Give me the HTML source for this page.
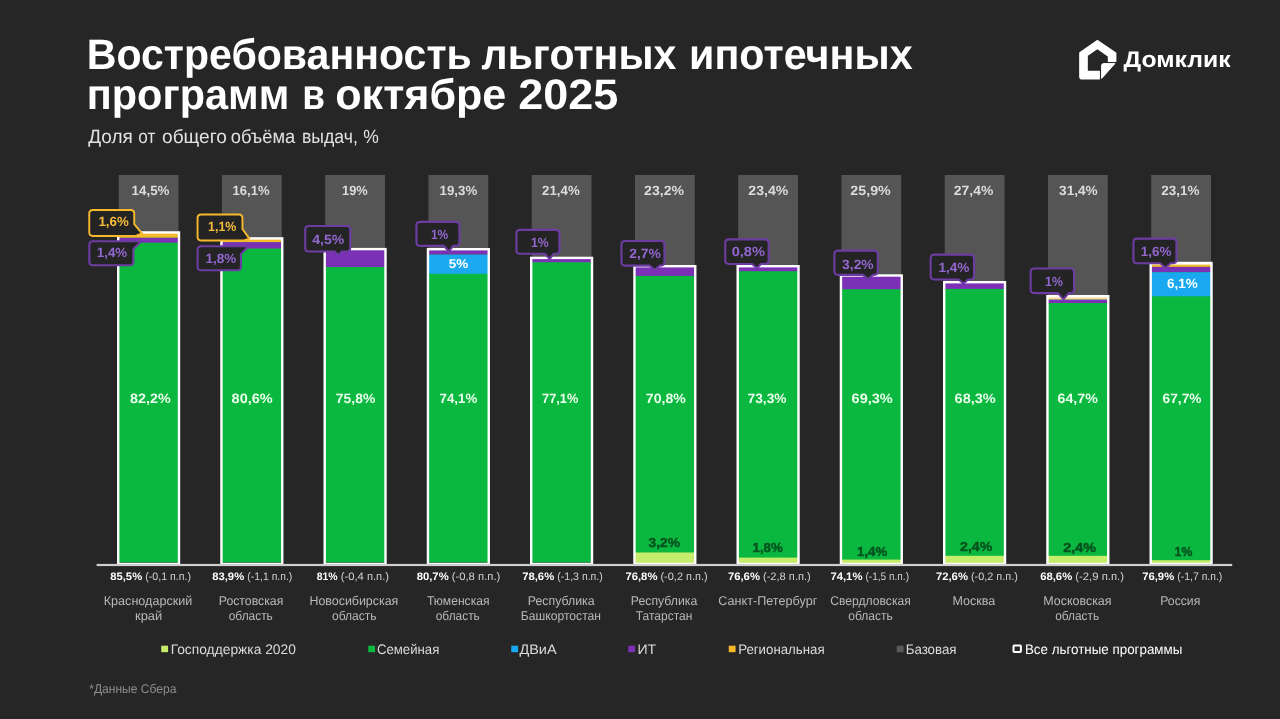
<!DOCTYPE html>
<html lang="ru">
<head>
<meta charset="utf-8">
<title>Востребованность льготных ипотечных программ в октябре 2025</title>
<style>
html,body{margin:0;padding:0;background:#262626;overflow:hidden}
body{width:1280px;height:719px}
svg{display:block;will-change:transform;font-family:'Liberation Sans', Arial, sans-serif;text-rendering:geometricPrecision}
</style>
</head>
<body>
<svg width="1280" height="719" viewBox="0 0 1280 719">
<rect x="0" y="0" width="1280" height="719" fill="#262626"/>
<text x="86.80" y="68.75" font-size="42.7" fill="#ffffff" font-weight="700" textLength="385.02" lengthAdjust="spacingAndGlyphs">Востребованность</text>
<text x="481.55" y="68.75" font-size="42.7" fill="#ffffff" font-weight="700" textLength="194.77" lengthAdjust="spacingAndGlyphs">льготных</text>
<text x="689.05" y="68.75" font-size="42.7" fill="#ffffff" font-weight="700" textLength="223.57" lengthAdjust="spacingAndGlyphs">ипотечных</text>
<text x="86.80" y="109.40" font-size="42.7" fill="#ffffff" font-weight="700" textLength="202.52" lengthAdjust="spacingAndGlyphs">программ</text>
<text x="302.30" y="109.40" font-size="42.7" fill="#ffffff" font-weight="700" textLength="22.77" lengthAdjust="spacingAndGlyphs">в</text>
<text x="335.30" y="109.40" font-size="42.7" fill="#ffffff" font-weight="700" textLength="171.02" lengthAdjust="spacingAndGlyphs">октябре</text>
<text x="518.30" y="109.40" font-size="42.7" fill="#ffffff" font-weight="700" textLength="100.02" lengthAdjust="spacingAndGlyphs">2025</text>
<text x="88.25" y="142.50" font-size="19.2" fill="#e2e2e2" textLength="44.55" lengthAdjust="spacingAndGlyphs">Доля</text>
<text x="138.25" y="142.50" font-size="19.2" fill="#e2e2e2" textLength="17.05" lengthAdjust="spacingAndGlyphs">от</text>
<text x="162.00" y="142.50" font-size="19.2" fill="#e2e2e2" textLength="64.90" lengthAdjust="spacingAndGlyphs">общего</text>
<text x="230.75" y="142.50" font-size="19.2" fill="#e2e2e2" textLength="64.55" lengthAdjust="spacingAndGlyphs">объёма</text>
<text x="302.00" y="142.50" font-size="19.2" fill="#e2e2e2" textLength="55.80" lengthAdjust="spacingAndGlyphs">выдач,</text>
<text x="363.25" y="142.50" font-size="19.2" fill="#e2e2e2" textLength="15.55" lengthAdjust="spacingAndGlyphs">%</text>
<g fill="#ffffff">
<path fill-rule="evenodd" stroke="#ffffff" stroke-width="1.2" stroke-linejoin="round" d="M1097.4 40.5 L1115.8 53.0 L1115.8 61.3 L1108.4 61.3 L1108.4 56.2 L1097.4 48.5 L1087.2 55.6 L1087.2 71.4 L1099.3 71.4 L1099.3 78.9 L1082.0 78.9 Q1079.8 78.9 1079.8 76.7 L1079.8 52.8 Z"/>
<path stroke="#ffffff" stroke-width="1" stroke-linejoin="round" d="M1101.6 78.4 L1101.6 65.6 Q1101.6 63.6 1103.6 63.6 L1114.9 63.6 Z"/>
</g>
<text x="1123.60" y="67.20" font-size="22.7" fill="#ffffff" font-weight="700" textLength="106.94" lengthAdjust="spacingAndGlyphs">Домклик</text>
<rect x="118.70" y="175.0" width="59.80" height="58.25" fill="#555555"/>
<rect x="118.20" y="232.25" width="60.80" height="330.15" fill="#0ab83f"/>
<rect x="118.20" y="232.25" width="60.80" height="5.55" fill="#f6b92c"/>
<rect x="118.20" y="237.80" width="60.80" height="4.90" fill="#7b30b5"/>
<rect x="118.20" y="232.45" width="60.80" height="331.55" fill="none" stroke="#ffffff" stroke-width="2.4"/>
<rect x="221.95" y="175.0" width="59.80" height="64.20" fill="#555555"/>
<rect x="221.45" y="238.20" width="60.80" height="324.20" fill="#0ab83f"/>
<rect x="221.45" y="238.20" width="60.80" height="4.00" fill="#f6b92c"/>
<rect x="221.45" y="242.20" width="60.80" height="6.30" fill="#7b30b5"/>
<rect x="221.45" y="238.40" width="60.80" height="325.60" fill="none" stroke="#ffffff" stroke-width="2.4"/>
<rect x="325.20" y="175.0" width="59.80" height="74.90" fill="#555555"/>
<rect x="324.70" y="248.90" width="60.80" height="313.50" fill="#0ab83f"/>
<rect x="324.70" y="248.90" width="60.80" height="18.10" fill="#7b30b5"/>
<rect x="324.70" y="249.10" width="60.80" height="314.90" fill="none" stroke="#ffffff" stroke-width="2.4"/>
<rect x="428.45" y="175.0" width="59.80" height="75.00" fill="#555555"/>
<rect x="427.95" y="249.00" width="60.80" height="313.40" fill="#0ab83f"/>
<rect x="427.95" y="249.00" width="60.80" height="5.70" fill="#7b30b5"/>
<rect x="427.95" y="254.70" width="60.80" height="19.05" fill="#1aa9f0"/>
<rect x="427.95" y="249.20" width="60.80" height="314.80" fill="none" stroke="#ffffff" stroke-width="2.4"/>
<rect x="531.70" y="175.0" width="59.80" height="83.70" fill="#555555"/>
<rect x="531.20" y="257.70" width="60.80" height="304.70" fill="#0ab83f"/>
<rect x="531.20" y="257.70" width="60.80" height="4.50" fill="#7b30b5"/>
<rect x="531.20" y="257.90" width="60.80" height="306.10" fill="none" stroke="#ffffff" stroke-width="2.4"/>
<rect x="634.95" y="175.0" width="59.80" height="92.00" fill="#555555"/>
<rect x="634.45" y="266.00" width="60.80" height="296.40" fill="#0ab83f"/>
<rect x="634.45" y="266.00" width="60.80" height="9.90" fill="#7b30b5"/>
<rect x="634.45" y="552.50" width="60.80" height="10.90" fill="#c6ec6b"/>
<rect x="634.45" y="266.20" width="60.80" height="297.80" fill="none" stroke="#ffffff" stroke-width="2.4"/>
<rect x="738.20" y="175.0" width="59.80" height="92.00" fill="#555555"/>
<rect x="737.70" y="266.00" width="60.80" height="296.40" fill="#0ab83f"/>
<rect x="737.70" y="266.00" width="60.80" height="5.20" fill="#7b30b5"/>
<rect x="737.70" y="557.60" width="60.80" height="5.80" fill="#c6ec6b"/>
<rect x="737.70" y="266.20" width="60.80" height="297.80" fill="none" stroke="#ffffff" stroke-width="2.4"/>
<rect x="841.45" y="175.0" width="59.80" height="101.30" fill="#555555"/>
<rect x="840.95" y="275.30" width="60.80" height="287.10" fill="#0ab83f"/>
<rect x="840.95" y="275.30" width="60.80" height="13.90" fill="#7b30b5"/>
<rect x="840.95" y="559.60" width="60.80" height="3.80" fill="#c6ec6b"/>
<rect x="840.95" y="275.50" width="60.80" height="288.50" fill="none" stroke="#ffffff" stroke-width="2.4"/>
<rect x="944.70" y="175.0" width="59.80" height="108.00" fill="#555555"/>
<rect x="944.20" y="282.00" width="60.80" height="280.40" fill="#0ab83f"/>
<rect x="944.20" y="282.00" width="60.80" height="6.90" fill="#7b30b5"/>
<rect x="944.20" y="555.80" width="60.80" height="7.60" fill="#c6ec6b"/>
<rect x="944.20" y="282.20" width="60.80" height="281.80" fill="none" stroke="#ffffff" stroke-width="2.4"/>
<rect x="1047.95" y="175.0" width="59.80" height="122.00" fill="#555555"/>
<rect x="1047.45" y="296.00" width="60.80" height="266.40" fill="#0ab83f"/>
<rect x="1047.45" y="296.00" width="60.80" height="3.70" fill="#f6dc9a"/>
<rect x="1047.45" y="299.70" width="60.80" height="3.30" fill="#7b30b5"/>
<rect x="1047.45" y="555.80" width="60.80" height="7.60" fill="#c6ec6b"/>
<rect x="1047.45" y="296.20" width="60.80" height="267.80" fill="none" stroke="#ffffff" stroke-width="2.4"/>
<rect x="1151.20" y="175.0" width="59.80" height="88.80" fill="#555555"/>
<rect x="1150.70" y="262.80" width="60.80" height="299.60" fill="#0ab83f"/>
<rect x="1150.70" y="262.80" width="60.80" height="2.20" fill="#f6dc9a"/>
<rect x="1150.70" y="265.00" width="60.80" height="1.90" fill="#f6b92c"/>
<rect x="1150.70" y="266.90" width="60.80" height="5.40" fill="#7b30b5"/>
<rect x="1150.70" y="272.30" width="60.80" height="23.95" fill="#1aa9f0"/>
<rect x="1150.70" y="560.20" width="60.80" height="3.20" fill="#c6ec6b"/>
<rect x="1150.70" y="263.00" width="60.80" height="301.00" fill="none" stroke="#ffffff" stroke-width="2.4"/>
<rect x="96.6" y="563.9" width="1135.6" height="2.2" fill="#cfcfcf"/>
<text x="131.60" y="195.00" font-size="13.4" fill="#dcdcdc" font-weight="700" textLength="37.89" lengthAdjust="spacingAndGlyphs">14,5%</text>
<text x="232.60" y="195.00" font-size="13.4" fill="#dcdcdc" font-weight="700" textLength="36.89" lengthAdjust="spacingAndGlyphs">16,1%</text>
<text x="342.10" y="195.00" font-size="13.4" fill="#dcdcdc" font-weight="700" textLength="25.64" lengthAdjust="spacingAndGlyphs">19%</text>
<text x="439.60" y="195.00" font-size="13.4" fill="#dcdcdc" font-weight="700" textLength="37.64" lengthAdjust="spacingAndGlyphs">19,3%</text>
<text x="542.10" y="195.00" font-size="13.4" fill="#dcdcdc" font-weight="700" textLength="37.64" lengthAdjust="spacingAndGlyphs">21,4%</text>
<text x="644.10" y="195.00" font-size="13.4" fill="#dcdcdc" font-weight="700" textLength="39.89" lengthAdjust="spacingAndGlyphs">23,2%</text>
<text x="748.35" y="195.00" font-size="13.4" fill="#dcdcdc" font-weight="700" textLength="39.89" lengthAdjust="spacingAndGlyphs">23,4%</text>
<text x="850.35" y="195.00" font-size="13.4" fill="#dcdcdc" font-weight="700" textLength="40.39" lengthAdjust="spacingAndGlyphs">25,9%</text>
<text x="953.85" y="195.00" font-size="13.4" fill="#dcdcdc" font-weight="700" textLength="39.39" lengthAdjust="spacingAndGlyphs">27,4%</text>
<text x="1059.10" y="195.00" font-size="13.4" fill="#dcdcdc" font-weight="700" textLength="38.64" lengthAdjust="spacingAndGlyphs">31,4%</text>
<text x="1161.35" y="195.00" font-size="13.4" fill="#dcdcdc" font-weight="700" textLength="38.14" lengthAdjust="spacingAndGlyphs">23,1%</text>
<text x="130.10" y="403.25" font-size="13.6" fill="#ecffee" font-weight="700" textLength="40.64" lengthAdjust="spacingAndGlyphs">82,2%</text>
<text x="231.60" y="403.25" font-size="13.6" fill="#ecffee" font-weight="700" textLength="41.14" lengthAdjust="spacingAndGlyphs">80,6%</text>
<text x="335.85" y="403.25" font-size="13.6" fill="#ecffee" font-weight="700" textLength="39.39" lengthAdjust="spacingAndGlyphs">75,8%</text>
<text x="439.60" y="403.25" font-size="13.6" fill="#ecffee" font-weight="700" textLength="37.64" lengthAdjust="spacingAndGlyphs">74,1%</text>
<text x="542.10" y="403.25" font-size="13.6" fill="#ecffee" font-weight="700" textLength="36.14" lengthAdjust="spacingAndGlyphs">77,1%</text>
<text x="645.85" y="403.25" font-size="13.6" fill="#ecffee" font-weight="700" textLength="39.89" lengthAdjust="spacingAndGlyphs">70,8%</text>
<text x="747.60" y="403.25" font-size="13.6" fill="#ecffee" font-weight="700" textLength="38.89" lengthAdjust="spacingAndGlyphs">73,3%</text>
<text x="851.60" y="403.25" font-size="13.6" fill="#ecffee" font-weight="700" textLength="41.14" lengthAdjust="spacingAndGlyphs">69,3%</text>
<text x="954.60" y="403.25" font-size="13.6" fill="#ecffee" font-weight="700" textLength="41.14" lengthAdjust="spacingAndGlyphs">68,3%</text>
<text x="1057.60" y="403.25" font-size="13.6" fill="#ecffee" font-weight="700" textLength="40.14" lengthAdjust="spacingAndGlyphs">64,7%</text>
<text x="1162.60" y="403.25" font-size="13.6" fill="#ecffee" font-weight="700" textLength="38.89" lengthAdjust="spacingAndGlyphs">67,7%</text>
<text x="448.85" y="268.00" font-size="12.8" fill="#ffffff" font-weight="700" textLength="19.39" lengthAdjust="spacingAndGlyphs">5%</text>
<text x="1167.10" y="288.00" font-size="13.4" fill="#ffffff" font-weight="700" textLength="30.64" lengthAdjust="spacingAndGlyphs">6,1%</text>
<text x="648.60" y="547.00" font-size="13.0" fill="#06531f" font-weight="700" textLength="31.39" lengthAdjust="spacingAndGlyphs" stroke="#06531f" stroke-width="0.45">3,2%</text>
<text x="752.60" y="551.75" font-size="13.0" fill="#06531f" font-weight="700" textLength="30.14" lengthAdjust="spacingAndGlyphs" stroke="#06531f" stroke-width="0.45">1,8%</text>
<text x="857.10" y="556.25" font-size="13.0" fill="#06531f" font-weight="700" textLength="30.14" lengthAdjust="spacingAndGlyphs" stroke="#06531f" stroke-width="0.45">1,4%</text>
<text x="960.10" y="551.25" font-size="13.0" fill="#06531f" font-weight="700" textLength="32.14" lengthAdjust="spacingAndGlyphs" stroke="#06531f" stroke-width="0.45">2,4%</text>
<text x="1063.35" y="551.75" font-size="13.0" fill="#06531f" font-weight="700" textLength="32.64" lengthAdjust="spacingAndGlyphs" stroke="#06531f" stroke-width="0.45">2,4%</text>
<text x="1174.60" y="556.25" font-size="13.0" fill="#06531f" font-weight="700" textLength="17.64" lengthAdjust="spacingAndGlyphs" stroke="#06531f" stroke-width="0.45">1%</text>
<path d="M92.85 209.95 L130.65 209.95 Q134.25 209.95 134.25 213.55 L134.25 224.20 L142.00 233.40 L135.75 235.95 L92.85 235.95 Q89.25 235.95 89.25 232.35 L89.25 213.55 Q89.25 209.95 92.85 209.95 Z" fill="#242424" stroke="#f6b92c" stroke-width="1.9" stroke-linejoin="round"/>
<text x="98.40" y="225.60" font-size="13.4" fill="#f8bd3a" font-weight="700" textLength="30.34" lengthAdjust="spacingAndGlyphs">1,6%</text>
<path d="M92.95 241.25 L141.00 241.25 L141.00 241.40 L133.35 249.00 L133.35 261.65 Q133.35 265.25 129.75 265.25 L92.95 265.25 Q89.35 265.25 89.35 261.65 L89.35 244.85 Q89.35 241.25 92.95 241.25 Z" fill="#242424" stroke="#6d3ca2" stroke-width="2.1" stroke-linejoin="round"/>
<text x="96.80" y="257.40" font-size="13.4" fill="#9267cf" font-weight="700" textLength="30.44" lengthAdjust="spacingAndGlyphs">1,4%</text>
<path d="M201.15 214.55 L238.85 214.55 Q242.45 214.55 242.45 218.15 L242.45 229.00 L249.40 238.60 L243.95 240.45 L201.15 240.45 Q197.55 240.45 197.55 236.85 L197.55 218.15 Q197.55 214.55 201.15 214.55 Z" fill="#242424" stroke="#f6b92c" stroke-width="1.9" stroke-linejoin="round"/>
<text x="208.10" y="231.10" font-size="13.4" fill="#f8bd3a" font-weight="700" textLength="28.24" lengthAdjust="spacingAndGlyphs">1,1%</text>
<path d="M201.25 246.25 L248.40 246.25 L248.40 246.60 L240.95 254.00 L240.95 266.65 Q240.95 270.25 237.35 270.25 L201.25 270.25 Q197.65 270.25 197.65 266.65 L197.65 249.85 Q197.65 246.25 201.25 246.25 Z" fill="#242424" stroke="#6d3ca2" stroke-width="2.1" stroke-linejoin="round"/>
<text x="205.50" y="262.60" font-size="13.4" fill="#9267cf" font-weight="700" textLength="30.84" lengthAdjust="spacingAndGlyphs">1,8%</text>
<path d="M308.85 225.95 L346.65 225.95 Q350.25 225.95 350.25 229.55 L350.25 247.95 Q350.25 251.55 346.65 251.55 L342.00 251.55 L338.30 255.00 L334.60 251.55 L308.85 251.55 Q305.25 251.55 305.25 247.95 L305.25 229.55 Q305.25 225.95 308.85 225.95 Z" fill="#242424" stroke="#6d3ca2" stroke-width="2.1" stroke-linejoin="round"/>
<text x="312.30" y="243.70" font-size="13.4" fill="#9267cf" font-weight="700" textLength="31.94" lengthAdjust="spacingAndGlyphs">4,5%</text>
<path d="M420.05 221.90 L455.85 221.90 Q459.45 221.90 459.45 225.50 L459.45 242.25 Q459.45 245.85 455.85 245.85 L453.20 245.85 L448.80 251.70 L444.00 245.85 L420.05 245.85 Q416.45 245.85 416.45 242.25 L416.45 225.50 Q416.45 221.90 420.05 221.90 Z" fill="#242424" stroke="#6d3ca2" stroke-width="2.1" stroke-linejoin="round"/>
<text x="430.90" y="239.20" font-size="13.4" fill="#9267cf" font-weight="700" textLength="17.34" lengthAdjust="spacingAndGlyphs">1%</text>
<path d="M520.05 229.85 L555.85 229.85 Q559.45 229.85 559.45 233.45 L559.45 250.15 Q559.45 253.75 555.85 253.75 L553.60 253.75 L549.70 259.10 L544.80 253.75 L520.05 253.75 Q516.45 253.75 516.45 250.15 L516.45 233.45 Q516.45 229.85 520.05 229.85 Z" fill="#242424" stroke="#6d3ca2" stroke-width="2.1" stroke-linejoin="round"/>
<text x="530.90" y="247.10" font-size="13.4" fill="#9267cf" font-weight="700" textLength="17.74" lengthAdjust="spacingAndGlyphs">1%</text>
<path d="M625.05 241.05 L660.85 241.05 Q664.45 241.05 664.45 244.65 L664.45 262.05 Q664.45 265.65 660.85 265.65 L659.40 265.65 L655.00 270.00 L649.60 265.65 L625.05 265.65 Q621.45 265.65 621.45 262.05 L621.45 244.65 Q621.45 241.05 625.05 241.05 Z" fill="#242424" stroke="#6d3ca2" stroke-width="2.1" stroke-linejoin="round"/>
<text x="629.20" y="258.00" font-size="13.4" fill="#9267cf" font-weight="700" textLength="31.54" lengthAdjust="spacingAndGlyphs">2,7%</text>
<path d="M728.85 239.35 L765.05 239.35 Q768.65 239.35 768.65 242.95 L768.65 260.35 Q768.65 263.95 765.05 263.95 L761.00 263.95 L756.70 268.30 L752.20 263.95 L728.85 263.95 Q725.25 263.95 725.25 260.35 L725.25 242.95 Q725.25 239.35 728.85 239.35 Z" fill="#242424" stroke="#6d3ca2" stroke-width="2.1" stroke-linejoin="round"/>
<text x="731.70" y="256.30" font-size="13.4" fill="#9267cf" font-weight="700" textLength="33.24" lengthAdjust="spacingAndGlyphs">0,8%</text>
<path d="M837.95 250.65 L874.15 250.65 Q877.75 250.65 877.75 254.25 L877.75 271.25 Q877.75 274.85 874.15 274.85 L873.00 274.85 L868.00 279.30 L862.90 274.85 L837.95 274.85 Q834.35 274.85 834.35 271.25 L834.35 254.25 Q834.35 250.65 837.95 250.65 Z" fill="#242424" stroke="#6d3ca2" stroke-width="2.1" stroke-linejoin="round"/>
<text x="842.10" y="268.80" font-size="13.4" fill="#9267cf" font-weight="700" textLength="31.54" lengthAdjust="spacingAndGlyphs">3,2%</text>
<path d="M934.25 254.65 L970.45 254.65 Q974.05 254.65 974.05 258.25 L974.05 275.85 Q974.05 279.45 970.45 279.45 L968.20 279.45 L963.40 283.50 L958.60 279.45 L934.25 279.45 Q930.65 279.45 930.65 275.85 L930.65 258.25 Q930.65 254.65 934.25 254.65 Z" fill="#242424" stroke="#6d3ca2" stroke-width="2.1" stroke-linejoin="round"/>
<text x="938.40" y="272.10" font-size="13.4" fill="#9267cf" font-weight="700" textLength="31.04" lengthAdjust="spacingAndGlyphs">1,4%</text>
<path d="M1034.25 268.55 L1070.45 268.55 Q1074.05 268.55 1074.05 272.15 L1074.05 289.55 Q1074.05 293.15 1070.45 293.15 L1068.80 293.15 L1063.40 299.40 L1058.00 293.15 L1034.25 293.15 Q1030.65 293.15 1030.65 289.55 L1030.65 272.15 Q1030.65 268.55 1034.25 268.55 Z" fill="#242424" stroke="#6d3ca2" stroke-width="2.1" stroke-linejoin="round"/>
<text x="1045.10" y="286.00" font-size="13.4" fill="#9267cf" font-weight="700" textLength="17.74" lengthAdjust="spacingAndGlyphs">1%</text>
<path d="M1137.05 238.65 L1172.85 238.65 Q1176.45 238.65 1176.45 242.25 L1176.45 259.65 Q1176.45 263.25 1172.85 263.25 L1170.60 263.25 L1165.40 268.00 L1160.20 263.25 L1137.05 263.25 Q1133.45 263.25 1133.45 259.65 L1133.45 242.25 Q1133.45 238.65 1137.05 238.65 Z" fill="#242424" stroke="#6d3ca2" stroke-width="2.1" stroke-linejoin="round"/>
<text x="1140.80" y="255.50" font-size="13.4" fill="#9267cf" font-weight="700" textLength="30.64" lengthAdjust="spacingAndGlyphs">1,6%</text>
<text x="110.20" y="579.80" font-size="10.9" fill="#ffffff" font-weight="700" textLength="31.98" lengthAdjust="spacingAndGlyphs">85,5%</text>
<text x="145.20" y="579.80" font-size="10.9" fill="#d2d2d2" textLength="45.85" lengthAdjust="spacingAndGlyphs">(-0,1 п.п.)</text>
<text x="212.20" y="579.80" font-size="10.9" fill="#ffffff" font-weight="700" textLength="31.98" lengthAdjust="spacingAndGlyphs">83,9%</text>
<text x="247.20" y="579.80" font-size="10.9" fill="#d2d2d2" textLength="45.10" lengthAdjust="spacingAndGlyphs">(-1,1 п.п.)</text>
<text x="316.70" y="579.80" font-size="10.9" fill="#ffffff" font-weight="700" textLength="20.98" lengthAdjust="spacingAndGlyphs">81%</text>
<text x="340.70" y="579.80" font-size="10.9" fill="#d2d2d2" textLength="48.35" lengthAdjust="spacingAndGlyphs">(-0,4 п.п.)</text>
<text x="416.70" y="579.80" font-size="10.9" fill="#ffffff" font-weight="700" textLength="31.98" lengthAdjust="spacingAndGlyphs">80,7%</text>
<text x="451.70" y="579.80" font-size="10.9" fill="#d2d2d2" textLength="48.60" lengthAdjust="spacingAndGlyphs">(-0,8 п.п.)</text>
<text x="522.20" y="579.80" font-size="10.9" fill="#ffffff" font-weight="700" textLength="31.98" lengthAdjust="spacingAndGlyphs">78,6%</text>
<text x="557.20" y="579.80" font-size="10.9" fill="#d2d2d2" textLength="45.60" lengthAdjust="spacingAndGlyphs">(-1,3 п.п.)</text>
<text x="625.45" y="579.80" font-size="10.9" fill="#ffffff" font-weight="700" textLength="31.98" lengthAdjust="spacingAndGlyphs">76,8%</text>
<text x="660.45" y="579.80" font-size="10.9" fill="#d2d2d2" textLength="47.35" lengthAdjust="spacingAndGlyphs">(-0,2 п.п.)</text>
<text x="727.95" y="579.80" font-size="10.9" fill="#ffffff" font-weight="700" textLength="31.98" lengthAdjust="spacingAndGlyphs">76,6%</text>
<text x="762.95" y="579.80" font-size="10.9" fill="#d2d2d2" textLength="47.85" lengthAdjust="spacingAndGlyphs">(-2,8 п.п.)</text>
<text x="830.45" y="579.80" font-size="10.9" fill="#ffffff" font-weight="700" textLength="31.98" lengthAdjust="spacingAndGlyphs">74,1%</text>
<text x="865.45" y="579.80" font-size="10.9" fill="#d2d2d2" textLength="43.60" lengthAdjust="spacingAndGlyphs">(-1,5 п.п.)</text>
<text x="935.95" y="579.80" font-size="10.9" fill="#ffffff" font-weight="700" textLength="31.98" lengthAdjust="spacingAndGlyphs">72,6%</text>
<text x="970.95" y="579.80" font-size="10.9" fill="#d2d2d2" textLength="46.85" lengthAdjust="spacingAndGlyphs">(-0,2 п.п.)</text>
<text x="1040.20" y="579.80" font-size="10.9" fill="#ffffff" font-weight="700" textLength="31.98" lengthAdjust="spacingAndGlyphs">68,6%</text>
<text x="1075.20" y="579.80" font-size="10.9" fill="#d2d2d2" textLength="48.85" lengthAdjust="spacingAndGlyphs">(-2,9 п.п.)</text>
<text x="1142.20" y="579.80" font-size="10.9" fill="#ffffff" font-weight="700" textLength="31.98" lengthAdjust="spacingAndGlyphs">76,9%</text>
<text x="1177.20" y="579.80" font-size="10.9" fill="#d2d2d2" textLength="45.10" lengthAdjust="spacingAndGlyphs">(-1,7 п.п.)</text>
<text x="103.75" y="605.00" font-size="12.7" fill="#b9b9b9" textLength="88.55" lengthAdjust="spacingAndGlyphs">Краснодарский</text>
<text x="135.00" y="619.80" font-size="12.7" fill="#b9b9b9" textLength="27.30" lengthAdjust="spacingAndGlyphs">край</text>
<text x="218.75" y="605.00" font-size="12.7" fill="#b9b9b9" textLength="64.55" lengthAdjust="spacingAndGlyphs">Ростовская</text>
<text x="228.75" y="619.80" font-size="12.7" fill="#b9b9b9" textLength="44.05" lengthAdjust="spacingAndGlyphs">область</text>
<text x="309.50" y="605.00" font-size="12.7" fill="#b9b9b9" textLength="88.80" lengthAdjust="spacingAndGlyphs">Новосибирская</text>
<text x="332.00" y="619.80" font-size="12.7" fill="#b9b9b9" textLength="44.55" lengthAdjust="spacingAndGlyphs">область</text>
<text x="427.00" y="605.00" font-size="12.7" fill="#b9b9b9" textLength="62.55" lengthAdjust="spacingAndGlyphs">Тюменская</text>
<text x="435.75" y="619.80" font-size="12.7" fill="#b9b9b9" textLength="44.05" lengthAdjust="spacingAndGlyphs">область</text>
<text x="527.75" y="605.00" font-size="12.7" fill="#b9b9b9" textLength="66.80" lengthAdjust="spacingAndGlyphs">Республика</text>
<text x="520.75" y="619.80" font-size="12.7" fill="#b9b9b9" textLength="80.30" lengthAdjust="spacingAndGlyphs">Башкортостан</text>
<text x="630.75" y="605.00" font-size="12.7" fill="#b9b9b9" textLength="66.55" lengthAdjust="spacingAndGlyphs">Республика</text>
<text x="635.75" y="619.80" font-size="12.7" fill="#b9b9b9" textLength="56.55" lengthAdjust="spacingAndGlyphs">Татарстан</text>
<text x="718.25" y="605.00" font-size="12.7" fill="#b9b9b9" textLength="99.05" lengthAdjust="spacingAndGlyphs">Санкт-Петербург</text>
<text x="830.25" y="605.00" font-size="12.7" fill="#b9b9b9" textLength="80.55" lengthAdjust="spacingAndGlyphs">Свердловская</text>
<text x="848.25" y="619.80" font-size="12.7" fill="#b9b9b9" textLength="44.55" lengthAdjust="spacingAndGlyphs">область</text>
<text x="952.50" y="605.00" font-size="12.7" fill="#b9b9b9" textLength="42.80" lengthAdjust="spacingAndGlyphs">Москва</text>
<text x="1043.25" y="605.00" font-size="12.7" fill="#b9b9b9" textLength="68.30" lengthAdjust="spacingAndGlyphs">Московская</text>
<text x="1055.25" y="619.80" font-size="12.7" fill="#b9b9b9" textLength="43.80" lengthAdjust="spacingAndGlyphs">область</text>
<text x="1160.25" y="605.00" font-size="12.7" fill="#b9b9b9" textLength="40.05" lengthAdjust="spacingAndGlyphs">Россия</text>
<rect x="161.25" y="645.7" width="6.8" height="6.5" fill="#c6ec6b"/>
<text x="170.65" y="653.75" font-size="13.8" fill="#dadada" textLength="125.21" lengthAdjust="spacingAndGlyphs">Господдержка 2020</text>
<rect x="368.25" y="645.7" width="6.8" height="6.5" fill="#0ab83f"/>
<text x="376.90" y="653.75" font-size="13.8" fill="#dadada" textLength="62.46" lengthAdjust="spacingAndGlyphs">Семейная</text>
<rect x="511.25" y="645.7" width="6.8" height="6.5" fill="#1aa9f0"/>
<text x="519.40" y="653.75" font-size="13.8" fill="#dadada" textLength="37.21" lengthAdjust="spacingAndGlyphs">ДВиА</text>
<rect x="628.25" y="645.7" width="6.8" height="6.5" fill="#7b30b5"/>
<text x="637.40" y="653.75" font-size="13.8" fill="#dadada" textLength="18.71" lengthAdjust="spacingAndGlyphs">ИТ</text>
<rect x="728.75" y="645.7" width="6.8" height="6.5" fill="#f6b92c"/>
<text x="738.15" y="653.75" font-size="13.8" fill="#dadada" textLength="86.46" lengthAdjust="spacingAndGlyphs">Региональная</text>
<rect x="896.75" y="645.7" width="6.8" height="6.5" fill="#5a5a5a"/>
<text x="905.65" y="653.75" font-size="13.8" fill="#dadada" textLength="50.96" lengthAdjust="spacingAndGlyphs">Базовая</text>
<rect x="1013.5" y="645.4" width="7.4" height="6.6" rx="0.8" fill="none" stroke="#ffffff" stroke-width="2"/>
<text x="1024.90" y="653.75" font-size="13.8" fill="#ffffff" textLength="157.46" lengthAdjust="spacingAndGlyphs">Все льготные программы</text>
<text x="89.20" y="692.50" font-size="12.6" fill="#8e8e8e" textLength="87.23" lengthAdjust="spacingAndGlyphs">*Данные Сбера</text>
</svg>
</body>
</html>
